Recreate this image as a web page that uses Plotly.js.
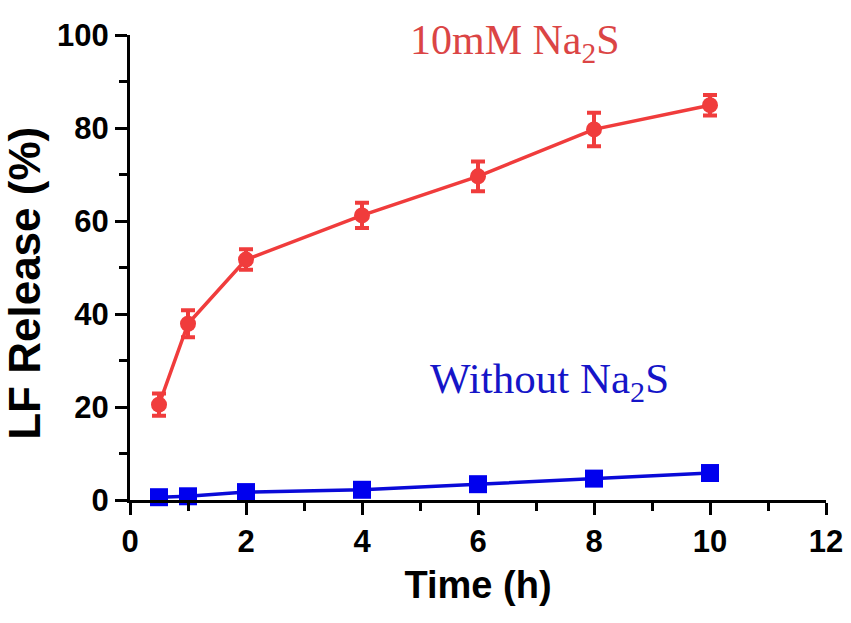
<!DOCTYPE html>
<html>
<head>
<meta charset="utf-8">
<script src="https://cdn.plot.ly/plotly-3.0.1.min.js"></script>
<style>
  body { margin: 0; background: #fff; }
  #graph { width: 851px; height: 623px; }
</style>
</head>
<body>
<div id="graph"></div>
<script>
// time points (h)
var time = [0.5, 1, 2, 4, 6, 8, 10];

// 10mM Na2S release (%) and error
var naS = [20.5, 37.9, 51.7, 61.2, 69.6, 79.7, 84.9];
var naS_err = [2.4, 2.9, 2.2, 2.7, 3.2, 3.6, 2.2];

// without Na2S release (%)
var ctrl = [0.6, 0.8, 1.7, 2.2, 3.4, 4.6, 5.8];

var trace1 = {
  x: time,
  y: naS,
  error_y: { type: 'data', array: naS_err, visible: true, color: '#f03c3c', thickness: 4, width: 7 },
  mode: 'lines+markers',
  type: 'scatter',
  name: '10mM Na2S',
  line: { color: '#f03c3c', width: 3.5 },
  marker: { color: '#f03c3c', symbol: 'circle', size: 16 },
  cliponaxis: false
};

var trace2 = {
  x: time,
  y: ctrl,
  mode: 'lines+markers',
  type: 'scatter',
  name: 'Without Na2S',
  line: { color: '#0a0ad8', width: 3.5 },
  marker: { color: '#0000ee', symbol: 'square', size: 18 },
  cliponaxis: false
};

var data = [trace1, trace2];

var sans = 'Liberation Sans, Arial, sans-serif';
var serif = 'Liberation Serif, Times New Roman, serif';
var axisFont = { family: sans, size: 31, color: '#000' };

var layout = {
  width: 851,
  height: 623,
  margin: { l: 130, r: 25, t: 35, b: 123 },
  paper_bgcolor: '#fff',
  plot_bgcolor: '#fff',
  showlegend: false,
  font: { family: sans, color: '#000' },
  xaxis: {
    range: [0, 12],
    dtick: 2,
    tick0: 0,
    showgrid: false,
    zeroline: false,
    showline: true,
    linecolor: '#000',
    linewidth: 3,
    ticks: 'outside',
    ticklen: 12,
    tickwidth: 3,
    tickcolor: '#000',
    tickfont: axisFont,
    tickprefix: '<b>', ticksuffix: '</b>',
    minor: { dtick: 1, ticks: 'outside', ticklen: 8, tickwidth: 3, tickcolor: '#000', showgrid: false },
    title: { text: '<b>Time (h)</b>', font: { family: sans, size: 38, color: '#000' }, standoff: 14 }
  },
  yaxis: {
    range: [0, 100],
    dtick: 20,
    tick0: 0,
    showgrid: false,
    zeroline: false,
    showline: true,
    linecolor: '#000',
    linewidth: 3,
    ticks: 'outside',
    ticklen: 12,
    tickwidth: 3,
    tickcolor: '#000',
    tickfont: axisFont,
    tickprefix: '<b>', ticksuffix: '</b>',
    minor: { dtick: 10, ticks: 'outside', ticklen: 8, tickwidth: 3, tickcolor: '#000', showgrid: false }
  },
  annotations: [
    {
      // y-axis title, placed by hand so it sits a little below centre like the original
      x: 0, y: 46.5, xref: 'paper', yref: 'y',
      xanchor: 'center', yanchor: 'middle', xshift: -105,
      text: '<b>LF Release (%)</b>',
      textangle: -90,
      showarrow: false,
      font: { family: sans, size: 44, color: '#000' }
    },
    {
      x: 6.64, y: 98.3, xref: 'x', yref: 'y',
      text: '10mM Na<sub>2</sub>S',
      showarrow: false,
      font: { family: serif, size: 42, color: '#db4545' }
    },
    {
      x: 7.24, y: 25.4, xref: 'x', yref: 'y',
      text: 'Without Na<sub>2</sub>S',
      showarrow: false,
      font: { family: serif, size: 43, color: '#1515c8' }
    }
  ]
};

Plotly.newPlot('graph', data, layout, { staticPlot: true });
</script>
</body>
</html>
